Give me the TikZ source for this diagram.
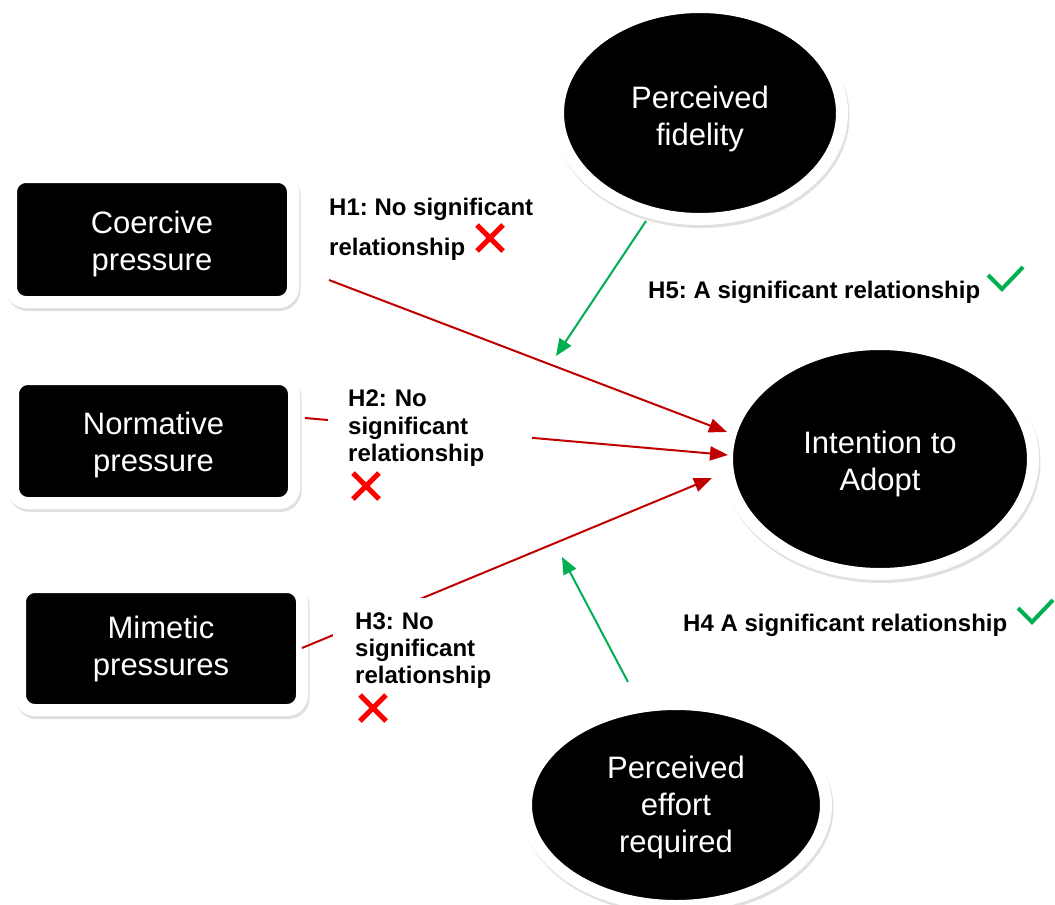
\documentclass[tikz,border=0pt]{standalone}
\usepackage{fontspec}
\setmainfont{Liberation Sans}
\usetikzlibrary{shapes.geometric,shadows,arrows.meta}
\definecolor{darkred}{HTML}{C00000}
\definecolor{okgreen}{HTML}{00B050}
\definecolor{xred}{HTML}{FF0000}
\newcommand\toppad[1]{\rule{0pt}{#1}}
\frenchspacing
\tikzset{
  shad/.style={drop shadow={shadow xshift=1.5pt,shadow yshift=-3pt,fill=black!30,draw=black!30,line width=12pt,opacity=0.4}},
  blkbox/.style={rectangle,rounded corners=15pt,fill=black,draw=white,line width=12pt,text=white,align=center,inner sep=0pt,font=\fontsize{31}{37}\selectfont,shad},
  blkell/.style={ellipse,fill=black,draw=white,line width=12pt,text=white,align=center,inner sep=0pt,font=\fontsize{31}{37}\selectfont,shad},
  redarrow/.style={draw=darkred,line width=2pt,-{Triangle[length=18pt,width=14pt]}},
  greenarrow/.style={draw=okgreen,line width=2pt,-{Triangle[length=17pt,width=14pt]}},
  hlabel/.style={font=\bfseries\fontsize{24}{27.3}\selectfont,align=left,inner sep=0pt},
  crossmark/.style={draw=xred,line width=5pt},
  checkmark/.style={draw=okgreen,line width=4pt}
}
\begin{document}
\begin{tikzpicture}[x=1pt,y=-1pt]
\useasboundingbox (0,0) rectangle (1055,905);
% nodes
\node[blkbox,minimum width=282pt,minimum height=125pt] (cp) at (152,239.5) {\toppad{30.6pt}Coercive\\pressure};
\node[blkbox,minimum width=281pt,minimum height=124pt] (np) at (153.5,441) {\toppad{30.6pt}Normative\\pressure};
\node[blkbox,minimum width=282pt,minimum height=123pt] (mp) at (161,648.5) {Mimetic\\pressures};
\node[blkell,minimum width=284pt,minimum height=212pt] (pf) at (700,113) {\toppad{33.6pt}Perceived\\fidelity};
\node[blkell,minimum width=306pt,minimum height=230pt] (ia) at (880,459) {\toppad{31.6pt}Intention to\\Adopt};
\node[blkell,minimum width=300pt,minimum height=202pt] (pe) at (676,805) {\toppad{26.6pt}Perceived\\effort\\required};
% connector end points
\coordinate (h1s) at (329,280);
\coordinate (h1e) at (727,432);
\coordinate (h2s) at (305,418);
\coordinate (h2e) at (728,455);
\coordinate (h3s) at (302,648);
\coordinate (h3e) at (712,478);
\coordinate (h5s) at (646,221);
\coordinate (h5e) at (556,356);
\coordinate (h4s) at (628,682);
\coordinate (h4e) at (562,557);
% connectors
\draw[redarrow] (h1s) -- (h1e);
\draw[redarrow] (h2s) -- (h2e);
\draw[redarrow] (h3s) -- (h3e);
\draw[greenarrow] (h5s) -- (h5e);
\draw[greenarrow] (h4s) -- (h4e);
% labels
\node[hlabel,anchor=base west,font=\bfseries\fontsize{24}{40}\selectfont] (l1) at (329,255) {H1: No significant\\relationship};
\node[hlabel,anchor=base west,fill=white,text width=164pt,inner xsep=20pt,inner ysep=8pt] (l2) at (328,406.7) {H2: No\\significant\\relationship};
\node[hlabel,anchor=base west,fill=white,text width=164pt,inner xsep=22pt,inner ysep=15pt] (l3) at (333,629.3) {H3: No\\significant\\relationship};
\node[hlabel,anchor=base west] (l5) at (648,298.3) {H5: A significant relationship};
\node[hlabel,anchor=base west] (l4) at (683,631) {H4 A significant relationship};
% crosses
\draw[crossmark] (477,225) -- (503,251) (477,251) -- (503,225);
\draw[crossmark] (353,473) -- (379,499) (353,499) -- (379,473);
\draw[crossmark] (360,695) -- (386,721) (360,721) -- (386,695);
% check marks
\draw[checkmark] (988,275) -- (1002,289) -- (1023,267);
\draw[checkmark] (1018,608) -- (1032,622) -- (1053,600);
\end{tikzpicture}
\end{document}
